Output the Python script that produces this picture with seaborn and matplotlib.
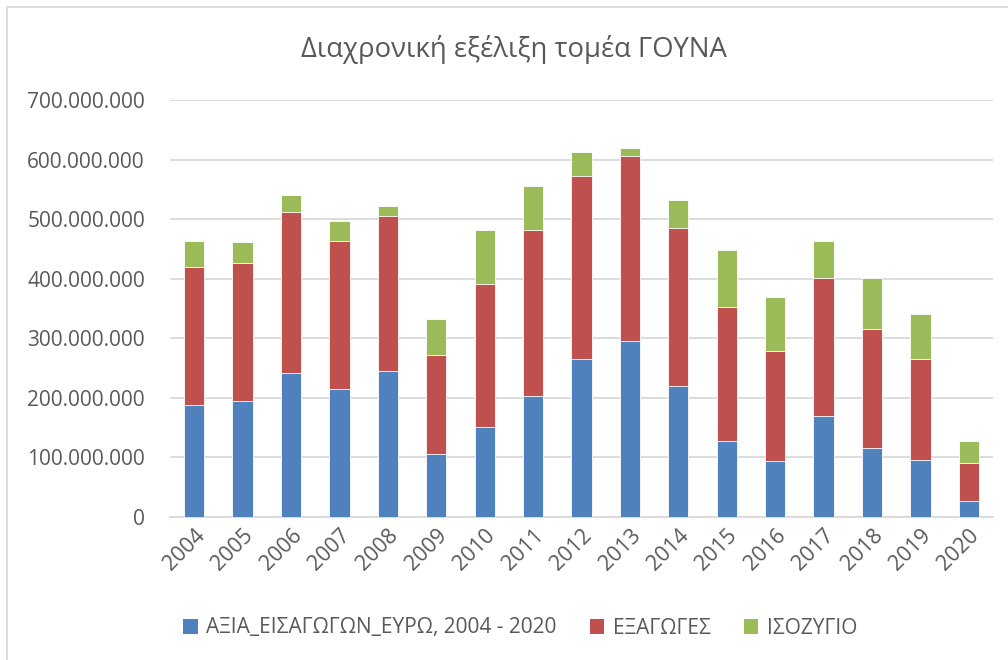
import numpy as np
import pandas as pd
import matplotlib
matplotlib.use("Agg")
import matplotlib.pyplot as plt
import matplotlib.ticker as mticker
from matplotlib.lines import Line2D
from matplotlib.patches import Patch
import seaborn as sns

years = [str(y) for y in range(2004, 2021)]
imports = [187.7, 194.4, 242.5, 215.6, 244.7, 105.0, 150.3, 202.8, 265.9,
           296.1, 219.6, 127.9, 94.4, 169.8, 115.1, 95.5, 27.4]
exports = [231.9, 231.3, 269.2, 247.5, 260.3, 166.5, 240.8, 278.8, 307.3,
           309.5, 265.9, 224.6, 184.4, 231.3, 200.5, 170.4, 63.7]
balance = [44.1, 35.2, 28.0, 33.0, 17.3, 61.5, 91.0, 74.8, 40.2,
           14.0, 45.8, 95.5, 91.0, 62.6, 85.5, 74.9, 35.7]
series_names = ["ΑΞΙΑ_ΕΙΣΑΓΩΓΩΝ_ΕΥΡΩ, 2004 - 2020", "ΕΞΑΓΩΓΕΣ", "ΙΣΟΖΥΓΙΟ"]
colors = ["#4F81BD", "#C0504D", "#9BBB59"]
title = "Διαχρονική εξέλιξη τομέα ΓΟΥΝΑ"

sns.set_theme(style="white")
plt.rcParams["font.family"] = ["Open Sans", "DejaVu Sans"]
text_color = "#595959"

scale = 1e6
df = pd.DataFrame({
    "year": years,
    "s1": np.array(imports) * scale,
    "s2": (np.array(imports) + np.array(exports)) * scale,
    "s3": (np.array(imports) + np.array(exports) + np.array(balance)) * scale,
})

fig = plt.figure(figsize=(10.08, 6.60), dpi=100)
ax = fig.add_axes([170 / 1008, 1 - 517 / 660, (993 - 170) / 1008, (517 - 100) / 660])

for col, c in zip(["s3", "s2", "s1"], colors[::-1]):
    sns.barplot(data=df, x="year", y=col, color=c, width=0.42, ax=ax,
                edgecolor="white", linewidth=0.6, saturation=1, zorder=3)

ax.set_ylim(0, 700e6)
ax.set_xlim(-0.5, len(years) - 0.5)
ax.yaxis.set_major_locator(mticker.MultipleLocator(100e6))
ax.yaxis.set_major_formatter(mticker.FuncFormatter(
    lambda v, p: "0" if v == 0 else f"{int(round(v)):,}".replace(",", ".")))
ax.grid(axis="y", color="#D9D9D9", linewidth=1.3, zorder=0)
ax.set_axisbelow(True)
for s in ["top", "right", "left"]:
    ax.spines[s].set_visible(False)
ax.spines["bottom"].set_color("#D9D9D9")
ax.spines["bottom"].set_linewidth(1.3)
ax.set_xlabel("")
ax.set_ylabel("")
ax.tick_params(axis="y", length=0, pad=18, labelsize=15, labelcolor=text_color)
ax.tick_params(axis="x", length=0, pad=6, labelsize=15.5, labelcolor=text_color)
plt.setp(ax.get_xticklabels(), rotation=45, ha="right", va="top",
         rotation_mode="anchor")

fig.text(514 / 1008, 1 - 50 / 660, title, ha="center", va="center",
         fontsize=19.8, color=text_color)

handles = [Patch(facecolor=c, edgecolor="none") for c in colors]
fig.legend(handles, series_names, loc="center", bbox_to_anchor=(520 / 1008, 1 - 628 / 660),
           ncol=3, frameon=False, fontsize=15, labelcolor=text_color,
           handlelength=0.7, handleheight=0.7, handletextpad=0.4, columnspacing=1.6)

fig.add_artist(Line2D([7 / 1008, 7 / 1008], [0, 1 - 7 / 660], transform=fig.transFigure,
                      color="#D9D9D9", linewidth=1.3))
fig.add_artist(Line2D([7 / 1008, 1], [1 - 7 / 660, 1 - 7 / 660], transform=fig.transFigure,
                      color="#D9D9D9", linewidth=1.3))

fig.savefig("out.png", dpi=100)
